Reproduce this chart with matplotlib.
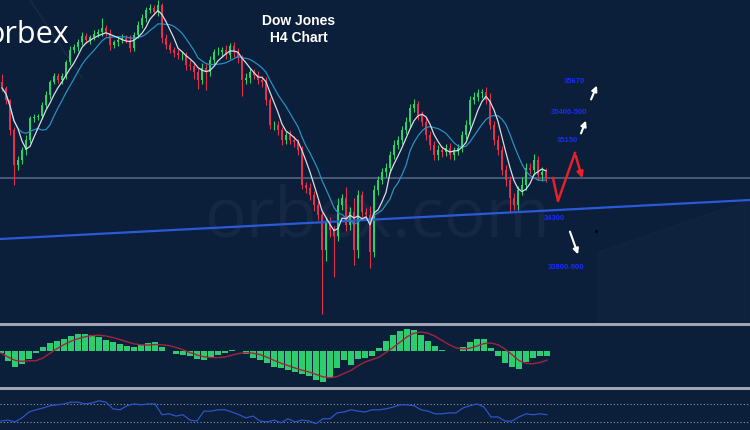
import numpy as np
import pandas as pd
import matplotlib
matplotlib.use('Agg')
import matplotlib.pyplot as plt
from matplotlib.lines import Line2D
from matplotlib.patches import Polygon

# H4 candles (price points), open of each candle = previous close
first_open = 35800
closes = [35732, 35600, 35270, 34885, 34940, 35050, 35160, 35402, 35413, 35424,
          35545, 35655, 35798, 35864, 35820, 35864, 36018, 36150, 36183, 36238,
          36304, 36260, 36293, 36326, 36348, 36392, 36337, 36205, 36238, 36260,
          36282, 36260, 36172, 36315, 36425, 36502, 36590, 36612, 36568, 36645,
          36282, 36205, 36150, 36117, 36095, 36095, 35985, 35974, 35908, 35820,
          35952, 35908, 36040, 36128, 36128, 36150, 36095, 36194, 36128, 36062,
          35820, 35842, 35908, 35875, 35820, 35798, 35600, 35325, 35325, 35270,
          35160, 35215, 35160, 35138, 35050, 34665, 34632, 34555, 34445, 34335,
          33950, 34258, 34170, 34104, 34445, 34522, 34225, 34368, 33950, 34555,
          34368, 34335, 33928, 34610, 34720, 34808, 34852, 34995, 35105, 35160,
          35270, 35358, 35512, 35556, 35435, 35358, 35215, 35105, 34995, 35050,
          35028, 35072, 34995, 35050, 35072, 35215, 35325, 35600, 35633, 35677,
          35688, 35600, 35325, 35160, 35050, 34830, 34720, 34522, 34445, 34610,
          34665, 34852, 34830, 34940, 34775, 34808, 34742]
upper_wick = [90, 20, 15, 30, 40, 30, 50, 20, 30, 25,
              30, 40, 25, 30, 35, 30, 20, 40, 30, 35,
              45, 30, 25, 40, 35, 110, 30, 40, 25, 35,
              40, 30, 55, 30, 40, 45, 30, 40, 30, 60,
              20, 40, 35, 30, 45, 40, 30, 50, 35, 40,
              60, 45, 40, 35, 50, 30, 60, 35, 40, 45,
              30, 50, 40, 35, 45, 40, 60, 30, 40, 45,
              35, 40, 50, 45, 30, 40, 35, 50, 40, 45,
              30, 60, 50, 45, 80, 40, 120, 50, 150, 60,
              40, 45, 100, 50, 40, 45, 60, 40, 50, 45,
              40, 60, 45, 50, 30, 40, 55, 45, 40, 50,
              45, 40, 50, 35, 45, 40, 50, 45, 60, 40,
              35, 50, 80, 45, 60, 45, 50, 40, 60, 45,
              90, 60, 50, 70, 40, 60, 45]
lower_wick = [30, 40, 50, 220, 60, 40, 50, 30, 40, 30,
              35, 30, 40, 25, 30, 40, 30, 35, 30, 40,
              30, 35, 40, 30, 35, 40, 30, 60, 35, 40,
              30, 35, 40, 30, 35, 30, 40, 30, 35, 40,
              50, 40, 35, 45, 40, 50, 60, 45, 80, 100,
              40, 200, 45, 40, 35, 50, 40, 45, 50, 60,
              180, 40, 50, 45, 40, 60, 50, 45, 50, 60,
              50, 45, 40, 50, 60, 45, 50, 60, 70, 50,
              700, 120, 80, 450, 60, 50, 70, 60, 170, 90,
              60, 50, 180, 60, 50, 40, 60, 50, 40, 45,
              40, 45, 50, 40, 50, 45, 60, 50, 55, 60,
              50, 45, 40, 60, 50, 45, 40, 50, 45, 40,
              50, 45, 40, 60, 50, 60, 70, 150, 60, 50,
              60, 50, 45, 60, 50, 70, 40]

# MACD histogram (points / 10) and RSI
macd_hist = [-2, -10, -16, -13, -8, -2, 4, 8, 10, 12, 15, 17, 17, 16, 14, 11, 9, 7, 5, 4,
             6, 8, 9, 4, 0, -3, -4, -5, -8, -9, -7, -4, -2, 1, 0, -3, -7, -9, -12, -16,
             -17, -19, -21, -23, -25, -29, -31, -26, -17, -9, -14, -8, -7, -5, 3, 10, 16, 20, 22, 21,
             16, 10, 5, 1, 0, 0, 4, 9, 12, 12, 3, -5, -12, -16, -18, -11, -7, -5, -5]
rsi = [32, 34, 30, 39, 52, 57, 61, 66, 68, 70, 74, 74, 70, 72, 77, 74, 59, 57, 66, 70,
       68, 70, 70, 46, 48, 43, 46, 34, 32, 54, 54, 57, 57, 52, 46, 39, 43, 32, 30, 34,
       28, 37, 30, 34, 32, 26, 37, 37, 50, 52, 57, 54, 52, 57, 57, 59, 63, 68, 68, 66,
       57, 54, 48, 48, 50, 50, 61, 66, 70, 63, 41, 41, 32, 32, 41, 48, 46, 48, 46]

# levels / targets drawn on the chart
level_price = 34742
trend_prices = [34071, 34500]
target_labels = ['35670', '35400-500', '35150', '34300', '33800-900']
target_label_prices = [35809, 35468, 35160, 34302, 33763]

bg = '#0b1e3a'
up_col = '#2fd06a'
down_col = '#e5304a'


def price(py):
    # pixel row of the main panel -> price
    return 36700 - 11 * py


fig = plt.figure(figsize=(7.5, 4.3), dpi=100, facecolor=bg)

ax = fig.add_axes([0, 108 / 430, 1, 322 / 430], facecolor=bg)
ax.set_xlim(0, 750)
ax.set_ylim(price(322), price(0))
ax.axis('off')

# background decoration
ax.add_patch(Polygon([(598, price(252)), (750, price(200)), (750, price(330)), (598, price(330))],
                     closed=True, facecolor='white', alpha=0.018, edgecolor='white', lw=0.8))
ax.plot([30, 82], [price(0), price(78)], color='white', alpha=0.06, lw=1)
ax.text(377, price(218), 'orbex.com', fontsize=50, color='white', alpha=0.045,
        ha='center', va='center', family='Open Sans')
ax.text(-14, price(35), 'orbex', fontsize=22, color='white', ha='left', va='center',
        family='Open Sans')

closes = np.array(closes, dtype=float)
opens = np.concatenate([[first_open], closes[:-1]])
highs = np.maximum(opens, closes) + np.array(upper_wick)
lows = np.minimum(opens, closes) - np.array(lower_wick)
xs = np.arange(len(closes)) * 4 + 2
cols = [up_col if c >= o else down_col for o, c in zip(opens, closes)]

ax.axhline(level_price, color='#4d5f7a', lw=1.3, zorder=1)
ax.plot([0, 750], trend_prices, color='#2a5ad8', lw=1.6, zorder=4)

ax.vlines(xs, lows, highs, colors=cols, lw=0.8, zorder=2)
ax.bar(xs, closes - opens, bottom=opens, width=2.6, color=cols, lw=0, zorder=3)

ma_fast = pd.Series(closes).rolling(5, min_periods=1).mean()
ma_slow = pd.Series(closes).rolling(10, min_periods=1).mean()
ax.plot(xs, ma_slow, color='#2a8fc0', lw=0.9, zorder=4)
ax.plot(xs, ma_fast, color='#d8dce6', lw=0.9, zorder=5)

fig.text(299 / 750, 1 - 21 / 430, 'Dow Jones', color='white', fontsize=10,
         fontweight='bold', ha='center', va='center', family='Liberation Sans')
fig.text(299 / 750, 1 - 38 / 430, 'H4 Chart', color='white', fontsize=10,
         fontweight='bold', ha='center', va='center', family='Liberation Sans')

# projected path and targets
ax.plot([553, 558, 575], [price(178), price(201), price(153)], color='#e8202a', lw=1.8, zorder=6)
ax.annotate('', xy=(583, price(181)), xytext=(575, price(153)),
            arrowprops=dict(arrowstyle='-|>', color='#e8202a', lw=1.8, mutation_scale=9), zorder=6)
for (x0, y0, x1, y1) in [(590, 102, 598, 83), (580, 136, 587, 118), (569, 229, 579, 257)]:
    ax.annotate('', xy=(x1, price(y1)), xytext=(x0, price(y0)),
                arrowprops=dict(arrowstyle='-|>', color='white', lw=1.5, mutation_scale=8))
for lab, lp, lx in zip(target_labels, target_label_prices, [574, 569, 567, 554, 566]):
    ax.text(lx, lp, lab, color='#1a2cff', fontsize=5.5, fontweight='bold',
            ha='center', va='center', family='Liberation Sans', zorder=7)
ax.plot([596], [price(231)], marker='o', ms=1.2, color='black')

# MACD panel
ax2 = fig.add_axes([0, 43 / 430, 1, 61 / 430], facecolor=bg)
ax2.set_xlim(0, 750)
ax2.set_ylim(-36, 25)
ax2.axis('off')
mx = np.linspace(1, 547, len(macd_hist))
ax2.bar(mx, macd_hist, width=6.4, color='#2ecc71', lw=0)
signal = pd.Series(macd_hist).rolling(5, min_periods=1).mean()
ax2.plot(mx, signal, color='#a3243c', lw=1)

# RSI panel
ax3 = fig.add_axes([0, 0, 1, 40 / 430], facecolor=bg)
ax3.set_xlim(0, 750)
ax3.set_ylim(12, 101)
ax3.axis('off')
for lvl in [70, 30]:
    ax3.axhline(lvl, color='#8c95a5', lw=0.8, ls=(0, (1, 2)))
ax3.plot(np.linspace(1, 547, len(rsi)), rsi, color='#2c55c8', lw=0.9)

for py in [324, 388]:
    fig.add_artist(Line2D([0, 1], [1 - py / 430] * 2, transform=fig.transFigure,
                          color='#9ea6b5', lw=2.2))

fig.savefig('out.png', dpi=100, facecolor=bg)
